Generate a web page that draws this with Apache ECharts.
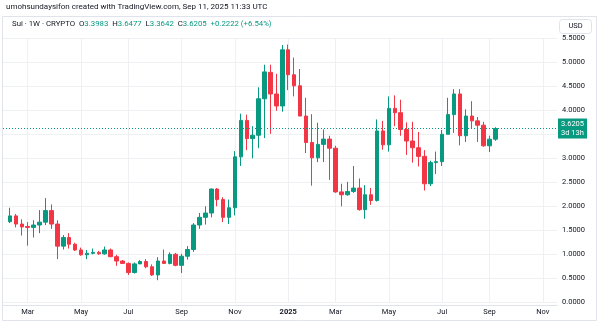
<!DOCTYPE html>
<html><head><meta charset="utf-8">
<script src="https://cdn.jsdelivr.net/npm/echarts@6/dist/echarts.min.js"></script>
<style>html,body{margin:0;padding:0;background:#fff}#c{width:600px;height:322px}</style>
</head><body><div id="c"></div>
<script>
// Weekly candles, SUI/USD (1W), week start dates
const weekStarts = [
 '2024-02-12','2024-02-19','2024-02-26','2024-03-04','2024-03-11','2024-03-18','2024-03-25','2024-04-01','2024-04-08','2024-04-15',
 '2024-04-22','2024-04-29','2024-05-06','2024-05-13','2024-05-20','2024-05-27','2024-06-03','2024-06-10','2024-06-17','2024-06-24',
 '2024-07-01','2024-07-08','2024-07-15','2024-07-22','2024-07-29','2024-08-05','2024-08-12','2024-08-19','2024-08-26','2024-09-02',
 '2024-09-09','2024-09-16','2024-09-23','2024-09-30','2024-10-07','2024-10-14','2024-10-21','2024-10-28','2024-11-04','2024-11-11',
 '2024-11-18','2024-11-25','2024-12-02','2024-12-09','2024-12-16','2024-12-23','2024-12-30','2025-01-06','2025-01-13','2025-01-20',
 '2025-01-27','2025-02-03','2025-02-10','2025-02-17','2025-02-24','2025-03-03','2025-03-10','2025-03-17','2025-03-24','2025-03-31',
 '2025-04-07','2025-04-14','2025-04-21','2025-04-28','2025-05-05','2025-05-12','2025-05-19','2025-05-26','2025-06-02','2025-06-09',
 '2025-06-16','2025-06-23','2025-06-30','2025-07-07','2025-07-14','2025-07-21','2025-07-28','2025-08-04','2025-08-11','2025-08-18',
 '2025-08-25','2025-09-01','2025-09-08'
];
const openVals = [
 1.68,1.80,1.63,1.58,1.56,1.61,1.67,1.91,1.63,1.17,
 1.35,1.21,1.09,0.99,1.02,1.04,1.01,1.09,0.95,0.86,
 0.81,0.62,0.80,0.85,0.74,0.57,0.86,0.81,1.00,0.77,
 0.96,1.10,1.61,1.77,1.86,2.36,2.14,1.77,1.97,3.03,
 3.79,3.41,3.48,4.24,4.79,4.34,4.09,5.26,4.74,4.51,
 3.88,3.33,3.01,3.29,3.40,3.21,2.30,2.24,2.31,2.38,
 1.93,2.24,2.12,3.57,3.28,4.04,3.95,3.60,3.36,3.22,
 3.04,2.47,2.91,2.93,3.50,3.91,4.34,3.47,3.88,3.78,
 3.69,3.26,3.3983
];
const highVals = [
 1.97,1.84,1.73,1.67,1.71,1.92,2.17,2.04,1.71,1.40,
 1.44,1.24,1.14,1.09,1.12,1.07,1.16,1.12,0.99,0.88,
 0.83,0.83,0.88,0.90,0.79,0.94,1.10,1.04,1.03,1.01,
 1.17,1.65,1.86,2.00,2.37,2.38,2.19,2.14,3.15,3.93,
 3.91,3.67,4.48,4.95,4.95,4.76,5.36,5.37,5.10,4.86,
 4.26,3.92,3.74,3.60,3.47,3.26,2.47,2.51,2.84,2.58,
 2.44,2.38,3.81,3.78,4.29,4.31,4.22,3.75,3.76,3.55,
 3.17,2.95,3.14,3.59,4.26,4.44,4.44,4.02,4.19,3.86,
 3.76,3.47,3.6477
];
const lowVals = [
 1.65,1.56,1.39,1.18,1.35,1.44,1.61,1.53,0.90,1.10,
 1.12,1.07,0.97,0.90,1.00,0.99,0.99,0.94,0.76,0.80,
 0.57,0.60,0.80,0.71,0.55,0.46,0.80,0.79,0.75,0.61,
 0.89,1.05,1.53,1.62,1.77,2.00,1.67,1.63,1.81,2.84,
 3.17,3.00,3.21,3.42,3.51,3.99,3.97,4.42,4.29,3.88,
 3.11,2.43,2.92,2.92,2.55,2.28,2.00,2.22,2.28,1.91,
 1.74,2.03,2.10,3.18,3.14,3.67,3.47,3.07,2.91,2.83,
 2.33,2.42,2.67,2.84,3.50,3.53,3.27,3.34,3.62,3.34,
 3.24,3.13,3.3642
];
const closeVals = [
 1.80,1.63,1.57,1.56,1.61,1.67,1.91,1.63,1.17,1.35,
 1.21,1.09,0.99,1.02,1.04,1.01,1.09,0.95,0.86,0.81,
 0.62,0.80,0.85,0.74,0.57,0.86,0.81,1.00,0.77,0.96,
 1.10,1.61,1.77,1.86,2.36,2.14,1.77,1.97,3.03,3.79,
 3.41,3.48,4.24,4.80,4.34,4.09,5.26,4.74,4.51,3.88,
 3.33,3.01,3.29,3.40,3.21,2.30,2.24,2.31,2.38,1.93,
 2.24,2.12,3.57,3.28,4.04,3.95,3.60,3.36,3.22,3.04,
 2.47,2.91,2.93,3.50,3.91,4.34,3.47,3.88,3.78,3.69,
 3.26,3.3983,3.6205
];
// Time-axis ticks (week index of first bar of each labelled month)
const timeTickIndex = [3, 12, 20, 29, 38, 47, 55, 64, 73, 81, 90];
const timeTickLabels = ['Mar','May','Jul','Sep','Nov','2025','Mar','May','Jul','Sep','Nov'];
// Price-axis ticks
const priceTicks = [0,0.5,1,1.5,2,2.5,3,3.5,4,4.5,5,5.5];
const symbolText = 'Sui · 1W · CRYPTO';
const headerText = 'umohsundaysifon created with TradingView.com, Sep 11, 2025 11:33 UTC';
const countdownText = '3d 13h';

const UP = '#089981', DOWN = '#F23645', TXT = '#131722', GRID = '#eef0f4';
const FONT = 'Roboto, "Noto Sans", sans-serif';

const candles = weekStarts.map((d, i) => [i, openVals[i], closeVals[i], lowVals[i], highVals[i]]);
const last = weekStarts.length - 1;
const lo = openVals[last], lh = highVals[last], ll = lowVals[last], lc = closeVals[last];
const chg = lc - lo, pct = chg / lo * 100;
const legendRich = '{d|' + symbolText + '}  {d|O}{g|' + lo.toFixed(4) + '}  {d|H}{g|' + lh.toFixed(4) +
  '}  {d|L}{g|' + ll.toFixed(4) + '}  {d|C}{g|' + lc.toFixed(4) + '}  {g|' + (chg >= 0 ? '+' : '') + chg.toFixed(4) +
  ' (' + (pct >= 0 ? '+' : '') + pct.toFixed(2) + '%)}';

const chart = echarts.init(document.getElementById('c'), null, {renderer: 'canvas'});
chart.setOption({
  animation: false,
  backgroundColor: '#fff',
  grid: {left: 3, right: 43, top: 38.3, bottom: 19.7, containLabel: false},
  xAxis: {
    type: 'value', min: -1.18, max: 92.4,
    offset: 2.5,
    axisLine: {show: true, onZero: false, lineStyle: {color: '#e0e3eb'}},
    axisTick: {show: false, customValues: timeTickIndex},
    axisLabel: {
      customValues: timeTickIndex, margin: 3, fontSize: 7.5, color: TXT, fontFamily: FONT,
      formatter: v => { const k = timeTickIndex.indexOf(Math.round(v)); const t = k >= 0 ? timeTickLabels[k] : ''; return /^\d+$/.test(t) ? '{b|' + t + '}' : t; },
      rich: {b: {fontWeight: 'bold', fontSize: 7.5, color: TXT, fontFamily: FONT}}
    },
    splitLine: {show: true, lineStyle: {color: GRID, width: 1}}
  },
  yAxis: {
    type: 'value', position: 'right', min: 0, max: 5.5, interval: 0.5,
    axisLine: {show: false}, axisTick: {show: false},
    axisLabel: {margin: 5, fontSize: 7.5, color: TXT, fontFamily: FONT, formatter: v => v.toFixed(4)},
    splitLine: {show: true, lineStyle: {color: GRID, width: 1}}
  },
  series: [{
    type: 'candlestick',
    data: candles,
    barWidth: 4,
    itemStyle: {color: UP, color0: DOWN, borderColor: UP, borderColor0: DOWN, borderWidth: 1},
    markLine: {
      silent: true, symbol: ['none', 'none'], precision: 4,
      lineStyle: {color: UP, type: [1, 2], width: 1},
      label: {
        position: 'end', distance: 1, color: '#fff', backgroundColor: UP, fontSize: 7.5, fontFamily: FONT,
        lineHeight: 9, padding: [1, 3, 1, 3], align: 'left',
        formatter: () => lc.toFixed(4) + '\n' + countdownText
      },
      data: [{yAxis: lc}]
    }
  }],
  graphic: [
    {type: 'rect', silent: true, z: -1, shape: {x: 2.5, y: 16.5, width: 594, height: 304}, style: {fill: 'none', stroke: '#e0e3eb', lineWidth: 1}},
    {type: 'text', left: 6, top: 3, style: {text: headerText, fontSize: 8, fill: TXT, fontFamily: FONT}},
    {type: 'text', left: 12, top: 20, style: {text: legendRich, fontSize: 7.8, fontFamily: FONT,
      rich: {d: {fill: TXT, fontSize: 7.8, fontFamily: FONT}, g: {fill: UP, fontSize: 7.8, fontFamily: FONT}}}},
    {type: 'rect', z: 50, shape: {x: 559.5, y: 19.5, width: 32, height: 14, r: 3}, style: {fill: '#fff', stroke: '#e0e3eb', lineWidth: 1}},
    {type: 'text', z: 51, x: 575.5, y: 26.5, style: {text: 'USD', fontSize: 7.5, fill: TXT, fontFamily: FONT, align: 'center', verticalAlign: 'middle'}}
  ]
});
</script></body></html>
